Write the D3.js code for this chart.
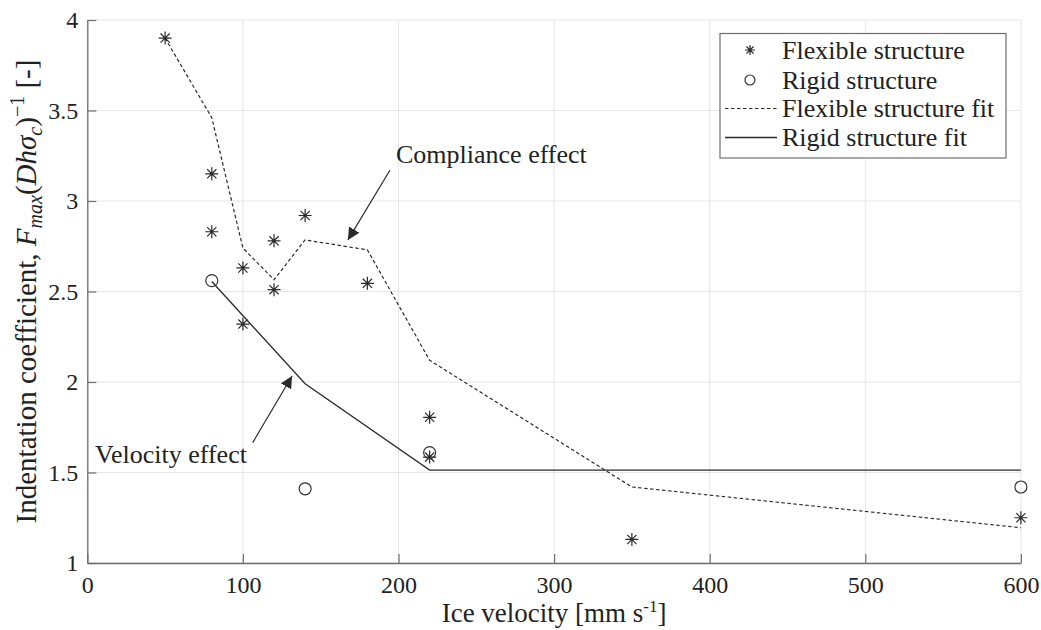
<!DOCTYPE html>
<html>
<head>
<meta charset="utf-8">
<script src="https://cdn.jsdelivr.net/npm/d3@7"></script>
<style>
  body { margin: 0; background: #fff; }
  svg text { font-family: "Liberation Serif", "Times New Roman", serif; fill: #222; }
</style>
</head>
<body>
<svg id="chart" width="1041" height="630"></svg>
<script>
// measured points, flexible structure (asterisks)
const flexV = [50, 80, 80, 100, 100, 120, 120, 140, 180, 220, 220, 350, 600];
const flexC = [3.90, 3.15, 2.83, 2.63, 2.32, 2.78, 2.51, 2.92, 2.545, 1.805, 1.585, 1.13, 1.25];

// rigid structure (circles)
const rigidV = [80, 140, 220, 600];
const rigidC = [2.56, 1.41, 1.61, 1.42];

// fitted curves
const flexFitV = [50, 80, 100, 120, 140, 180, 220, 350, 600];
const flexFitC = [3.90, 3.46, 2.74, 2.565, 2.785, 2.73, 2.12, 1.42, 1.195];
const rigidFitV = [80, 140, 220, 600];
const rigidFitC = [2.555, 1.99, 1.513, 1.513];

const xTicks = [0, 100, 200, 300, 400, 500, 600];
const yTicks = [1, 1.5, 2, 2.5, 3, 3.5, 4];

const legendLabels = ['Flexible structure', 'Rigid structure', 'Flexible structure fit', 'Rigid structure fit'];

const svg = d3.select('#chart');
const x = d3.scaleLinear().domain([0, 600]).range([87.3, 1020.9]);
const y = d3.scaleLinear().domain([1, 4]).range([563, 20]);

const axisColor = '#6e6e6e';
const gridColor = '#e6e6e6';
const ink = '#2a2a2a';

// grid
const grid = svg.append('g');
grid.selectAll('.gx').data(xTicks).join('line')
  .attr('x1', d => x(d)).attr('x2', d => x(d))
  .attr('y1', y(1)).attr('y2', y(4))
  .attr('stroke', gridColor).attr('stroke-width', 1);
grid.selectAll('.gy').data(yTicks).join('line')
  .attr('x1', x(0)).attr('x2', x(600))
  .attr('y1', d => y(d)).attr('y2', d => y(d))
  .attr('stroke', gridColor).attr('stroke-width', 1);

// axes
const xAxis = svg.append('g')
  .attr('transform', `translate(0,${y(1)})`)
  .call(d3.axisBottom(x).tickValues(xTicks).tickSizeInner(-9).tickSizeOuter(0).tickPadding(14));
const yAxis = svg.append('g')
  .attr('transform', `translate(${x(0)},0)`)
  .call(d3.axisLeft(y).tickValues(yTicks).tickFormat(d3.format('')).tickSizeInner(-9).tickSizeOuter(0).tickPadding(9));
[xAxis, yAxis].forEach(a => {
  a.attr('font-family', null);
  a.select('.domain').attr('stroke', axisColor).attr('stroke-width', 1.3);
  a.selectAll('.tick line').attr('stroke', axisColor).attr('stroke-width', 1.2);
  a.selectAll('.tick text').attr('font-size', 24).attr('fill', '#222');
});
xAxis.selectAll('.tick text').attr('dy', '0.68em');

// fit lines
const line = d3.line().x(d => x(d[0])).y(d => y(d[1]));
svg.append('path')
  .datum(flexFitV.map((v, i) => [v, flexFitC[i]]))
  .attr('d', line).attr('fill', 'none')
  .attr('stroke', ink).attr('stroke-width', 1.2).attr('stroke-dasharray', '3.5,2.5');
svg.append('path')
  .datum(rigidFitV.map((v, i) => [v, rigidFitC[i]]))
  .attr('d', line).attr('fill', 'none')
  .attr('stroke', ink).attr('stroke-width', 1.3);

// markers
function star(g, s) {
  const d = s * 0.707;
  g.append('path')
    .attr('d', `M${-s},0H${s}M0,${-s}V${s}M${-d},${-d}L${d},${d}M${-d},${d}L${d},${-d}`)
    .attr('stroke', ink).attr('stroke-width', 1.2).attr('fill', 'none');
}
svg.append('g').selectAll('g')
  .data(flexV.map((v, i) => [v, flexC[i]]))
  .join('g')
  .attr('transform', d => `translate(${x(d[0])},${y(d[1])})`)
  .each(function () { star(d3.select(this), 6.5); });

svg.append('g').selectAll('circle')
  .data(rigidV.map((v, i) => [v, rigidC[i]]))
  .join('circle')
  .attr('cx', d => x(d[0])).attr('cy', d => y(d[1])).attr('r', 6)
  .attr('fill', 'none').attr('stroke', '#333').attr('stroke-width', 1.2);

// annotations
svg.append('defs').append('marker')
  .attr('id', 'head').attr('viewBox', '0 0 10 10')
  .attr('refX', 10).attr('refY', 5)
  .attr('markerWidth', 12).attr('markerHeight', 12)
  .attr('markerUnits', 'userSpaceOnUse')
  .attr('orient', 'auto')
  .append('path').attr('d', 'M0,0L10,5L0,10Z').attr('fill', ink);

const notes = [
  { text: 'Compliance effect', tx: 198.4, ty: 3.21, from: [194.5, 3.17], to: [167.5, 2.785] },
  { text: 'Velocity effect', tx: 5, ty: 1.553, from: [106.3, 1.665], to: [131.6, 2.033] }
];
notes.forEach(n => {
  svg.append('line')
    .attr('x1', x(n.from[0])).attr('y1', y(n.from[1]))
    .attr('x2', x(n.to[0])).attr('y2', y(n.to[1]))
    .attr('stroke', ink).attr('stroke-width', 1.2)
    .attr('marker-end', 'url(#head)');
  svg.append('text')
    .attr('x', x(n.tx)).attr('y', y(n.ty))
    .attr('font-size', 26)
    .text(n.text);
});

// axis labels
const xl = svg.append('text')
  .attr('x', (x(0) + x(600)) / 2).attr('y', 622)
  .attr('text-anchor', 'middle').attr('font-size', 27);
xl.append('tspan').text('Ice velocity [mm s');
xl.append('tspan').attr('dy', -10).attr('font-size', 17).text('-1');
xl.append('tspan').attr('dy', 10).text(']');

const yl = svg.append('text')
  .attr('transform', `translate(36,${(y(1) + y(4)) / 2}) rotate(-90)`)
  .attr('text-anchor', 'middle').attr('font-size', 29);
yl.append('tspan').text('Indentation coefficient, ');
yl.append('tspan').attr('font-style', 'italic').text('F');
yl.append('tspan').attr('font-style', 'italic').attr('font-size', 20).attr('dy', 6).text('max');
yl.append('tspan').attr('dy', -6).text('(');
yl.append('tspan').attr('font-style', 'italic').text('Dhσ');
yl.append('tspan').attr('font-style', 'italic').attr('font-size', 20).attr('dy', 6).text('c');
yl.append('tspan').attr('dy', -6).text(')');
yl.append('tspan').attr('font-size', 20).attr('dy', -12).text('−1');
yl.append('tspan').attr('dy', 12).text(' [-]');

// legend
const lg = svg.append('g');
lg.append('rect')
  .attr('x', 720).attr('y', 33.5).attr('width', 286).attr('height', 124.5)
  .attr('fill', '#fff').attr('stroke', axisColor).attr('stroke-width', 1.2);
const rowY = [50, 80, 108.5, 137.5];
legendLabels.forEach((lab, i) => {
  const ry = rowY[i];
  const row = lg.append('g');
  if (i === 0) {
    const g = row.append('g').attr('transform', `translate(750,${ry})`);
    star(g, 5);
  } else if (i === 1) {
    row.append('circle').attr('cx', 750).attr('cy', ry).attr('r', 5)
      .attr('fill', 'none').attr('stroke', '#333').attr('stroke-width', 1.2);
  } else {
    row.append('line').attr('x1', 725).attr('x2', 777).attr('y1', ry).attr('y2', ry)
      .attr('stroke', ink).attr('stroke-width', i === 2 ? 1.1 : 1.3)
      .attr('stroke-dasharray', i === 2 ? '3.5,2.5' : null);
  }
  row.append('text').attr('x', 782).attr('y', ry).attr('dy', '0.33em')
    .attr('font-size', 26).text(lab);
});
</script>
</body>
</html>
